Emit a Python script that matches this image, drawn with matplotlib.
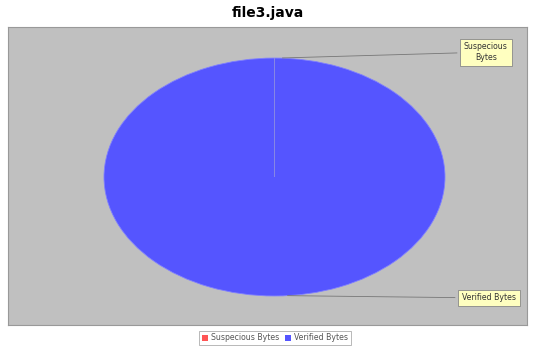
import matplotlib.pyplot as plt
from matplotlib.patches import Patch

labels = ['Suspecious Bytes', 'Verified Bytes']
label_text = ['Suspecious\nBytes', 'Verified Bytes']
sizes = [0, 100]
colors = ['#FF5555', '#5555FF']

fig = plt.figure(figsize=(5.35, 3.49), dpi=100)
ax = fig.add_axes([8/535, 1-325/349, 519/535, 298/349])

wedges, _ = ax.pie(sizes, colors=colors, startangle=90, counterclock=False,
                   frame=True, wedgeprops=dict(edgecolor='#8080ff', linewidth=0.6))
# the empty slice only shows as a thin line from the centre to the top
wedges[0].set_edgecolor('#9090e0')
wedges[0].set_zorder(5)
ax.set_aspect('auto')
ax.set_xlim(-1.563, 1.481)
ax.set_ylim(-1.244, 1.261)
ax.set_xticks([])
ax.set_yticks([])
ax.set_facecolor('#C0C0C0')
for s in ax.spines.values():
    s.set_color('#999999')
    s.set_linewidth(0.8)

# labels with leader lines
box = dict(boxstyle='square,pad=0.5', fc='#FFFFC0', ec='#888888', lw=0.6)
ax.annotate(label_text[0], xy=(0.03, 1.0), xytext=(1.24, 1.05),
            ha='center', va='center', fontsize=5.6, color='#333333',
            bbox=box, arrowprops=dict(arrowstyle='-', color='#777777', lw=0.6))
ax.annotate(label_text[1], xy=(0.06, -0.997), xytext=(1.258, -1.017),
            ha='center', va='center', fontsize=5.6, color='#333333',
            bbox=box, arrowprops=dict(arrowstyle='-', color='#777777', lw=0.6))

fig.suptitle('file3.java', x=268/535, y=1-13/349, va='center', fontsize=10, fontweight='bold')

handles = [Patch(facecolor=c, edgecolor='none') for c in colors]
leg = fig.legend(handles, labels, loc='center', bbox_to_anchor=(275/535, 1-338/349),
                 ncol=2, fontsize=5.6, frameon=True, fancybox=False,
                 handlelength=0.7, handleheight=0.7, handletextpad=0.4,
                 columnspacing=0.8, borderpad=0.35, labelcolor='#555555')
leg.get_frame().set_edgecolor('#999999')
leg.get_frame().set_linewidth(0.6)

fig.savefig('out.png', dpi=100)
